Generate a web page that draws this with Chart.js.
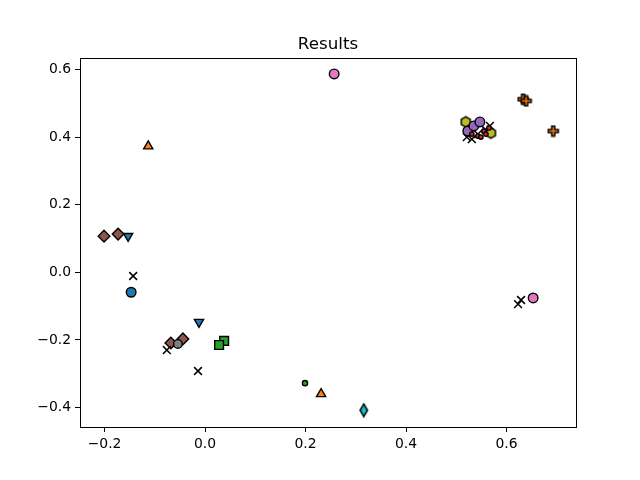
<!DOCTYPE html>
<html>
<head>
<meta charset="utf-8">
<script src="https://cdn.jsdelivr.net/npm/chart.js@4/dist/chart.umd.min.js"></script>
<style>
  html, body { margin: 0; padding: 0; background: #fff; }
  #wrap { width: 640px; height: 480px; }
</style>
</head>
<body>
<div id="wrap"><canvas id="chart" width="640" height="480"></canvas></div>
<script>
// axis ticks
const xTicks = [-0.2, 0.0, 0.2, 0.4, 0.6];
const yTicks = [-0.4, -0.2, 0.0, 0.2, 0.4, 0.6];
const chartTitle = "Results";

// series
const blueCircle = [{ x: -0.147, y: -0.059 }];
const blueTriDown = [{ x: -0.153, y: 0.107 }, { x: -0.012, y: -0.147 }];
const orangeTriUp = [{ x: -0.113, y: 0.373 }, { x: 0.231, y: -0.360 }];
const greenSquare = [{ x: 0.038, y: -0.203 }, { x: 0.028, y: -0.215 }];
const greenDot = [{ x: 0.199, y: -0.328 }];
const redDot = [
  { x: 0.531, y: 0.409 }, { x: 0.543, y: 0.403 }, { x: 0.555, y: 0.418 },
  { x: 0.565, y: 0.427 }, { x: 0.549, y: 0.400 }, { x: 0.559, y: 0.409 },
];
const purpleCircle = [{ x: 0.523, y: 0.418 }, { x: 0.535, y: 0.433 }, { x: 0.547, y: 0.445 }];
const brownDiamond = [
  { x: -0.201, y: 0.107 }, { x: -0.173, y: 0.113 },
  { x: -0.068, y: -0.209 }, { x: -0.044, y: -0.197 },
];
const pinkCircle = [{ x: 0.257, y: 0.587 }, { x: 0.653, y: -0.076 }];
const grayCircle = [{ x: -0.054, y: -0.212 }];
const oliveHex = [{ x: 0.519, y: 0.445 }, { x: 0.569, y: 0.412 }];
const cyanDiamond = [{ x: 0.316, y: -0.408 }];
const blackCross = [
  { x: -0.143, y: -0.011 }, { x: -0.076, y: -0.230 }, { x: -0.014, y: -0.292 },
  { x: 0.629, y: -0.082 }, { x: 0.623, y: -0.094 },
  { x: 0.521, y: 0.400 }, { x: 0.531, y: 0.394 }, { x: 0.543, y: 0.409 },
  { x: 0.559, y: 0.421 }, { x: 0.567, y: 0.433 },
];
const orangePlus = [{ x: 0.633, y: 0.512 }, { x: 0.639, y: 0.507 }, { x: 0.693, y: 0.418 }];

// little canvases for marker shapes chart.js doesn't have
function marker(w, h, fill, path) {
  const c = document.createElement("canvas");
  c.width = w;
  c.height = h;
  const g = c.getContext("2d");
  g.beginPath();
  path(g, w, h);
  g.closePath();
  g.fillStyle = fill;
  g.fill();
  g.lineWidth = 1.5;
  g.strokeStyle = "#000";
  g.lineJoin = "miter";
  g.stroke();
  return c;
}

function polygon(n, r, rot) {
  return (g, w, h) => {
    for (let i = 0; i < n; i++) {
      const a = rot + (i * 2 * Math.PI) / n;
      const px = w / 2 + r * Math.cos(a);
      const py = h / 2 + r * Math.sin(a);
      if (i === 0) g.moveTo(px, py);
      else g.lineTo(px, py);
    }
  };
}

const hexMarker = marker(13, 13, "#bcbd22", polygon(6, 5.2, -Math.PI / 2));
const thinDiamond = marker(11, 15, "#17becf", (g, w, h) => {
  g.moveTo(w / 2, 1.2);
  g.lineTo(w - 1.8, h / 2);
  g.lineTo(w / 2, h - 1.2);
  g.lineTo(1.8, h / 2);
});
const plusMarker = marker(13, 13, "#ff7f0e", (g) => {
  const a = 1.5, b = 5, d = 8, e = 11.5;
  g.moveTo(b, a); g.lineTo(d, a); g.lineTo(d, b); g.lineTo(e, b);
  g.lineTo(e, d); g.lineTo(d, d); g.lineTo(d, e); g.lineTo(b, e);
  g.lineTo(b, d); g.lineTo(a, d); g.lineTo(a, b); g.lineTo(b, b);
});

function series(data, style, color, radius, extra) {
  return Object.assign(
    {
      data: data,
      pointStyle: style,
      backgroundColor: color,
      borderColor: "#000",
      borderWidth: 1.4,
      pointRadius: radius,
      pointHoverRadius: radius,
    },
    extra || {},
  );
}

const frame = {
  id: "frame",
  afterDraw(chart) {
    const a = chart.chartArea;
    const ctx = chart.ctx;
    ctx.save();
    ctx.strokeStyle = "#000";
    ctx.lineWidth = 1;
    ctx.strokeRect(Math.round(a.left) + 0.5, Math.round(a.top) + 0.5,
      Math.round(a.right - a.left), Math.round(a.bottom - a.top));
    ctx.font = "16.7px 'DejaVu Sans', sans-serif";
    ctx.fillStyle = "#000";
    ctx.textAlign = "center";
    ctx.textBaseline = "alphabetic";
    ctx.fillText(chartTitle, (a.left + a.right) / 2, a.top - 9);
    ctx.restore();
  },
};

const fmt = (v) => {
  const s = Math.abs(v).toFixed(1);
  return v < -1e-9 ? "\u2212" + s : s;
};

Chart.defaults.font.family = "'DejaVu Sans', sans-serif";
Chart.defaults.color = "#000";

new Chart(document.getElementById("chart"), {
  type: "scatter",
  data: {
    datasets: [
      series(redDot, "circle", "#d62728", 2.2),
      series(purpleCircle, "circle", "#9467bd", 4.8),
      series(oliveHex, hexMarker, "#bcbd22", 5),
      series(pinkCircle, "circle", "#e377c2", 4.8),
      series(blackCross, "crossRot", "#000", 5.5, { borderWidth: 1.5 }),
      series(grayCircle, "circle", "#7f7f7f", 4.3),
      series(brownDiamond, "rectRot", "#8c564b", 5.8),
      series(greenSquare, "rect", "#2ca02c", 6.2),
      series(greenDot, "circle", "#2ca02c", 2.6),
      series(orangeTriUp, "triangle", "#ff7f0e", 5.3),
      series(blueTriDown, "triangle", "#1f77b4", 5.3, { rotation: 180 }),
      series(blueCircle, "circle", "#1f77b4", 4.8),
      series(cyanDiamond, thinDiamond, "#17becf", 6),
      series(orangePlus, plusMarker, "#ff7f0e", 5),
    ],
  },
  options: {
    responsive: false,
    animation: false,
    layout: { padding: { left: 0, right: 64, top: 58, bottom: 0 } },
    plugins: {
      legend: { display: false },
      tooltip: { enabled: false },
      title: { display: false },
    },
    scales: {
      x: {
        type: "linear",
        min: -0.2488,
        max: 0.7383,
        afterBuildTicks: (s) => { s.ticks = xTicks.map((v) => ({ value: v })); },
        afterFit: (s) => { s.height = 53; },
        border: { display: true, color: "#000", width: 1 },
        grid: { drawOnChartArea: false, drawTicks: true, tickLength: 5, color: "#000" },
        ticks: { font: { size: 13.9 }, padding: 4, maxRotation: 0, callback: fmt },
      },
      y: {
        type: "linear",
        min: -0.4577,
        max: 0.634,
        afterBuildTicks: (s) => { s.ticks = yTicks.map((v) => ({ value: v })); },
        afterFit: (s) => { s.width = 80; },
        border: { display: true, color: "#000", width: 1 },
        grid: { drawOnChartArea: false, drawTicks: true, tickLength: 5, color: "#000" },
        ticks: { font: { size: 13.9 }, padding: 4, callback: fmt },
      },
    },
  },
  plugins: [frame],
});
</script>
</body>
</html>
